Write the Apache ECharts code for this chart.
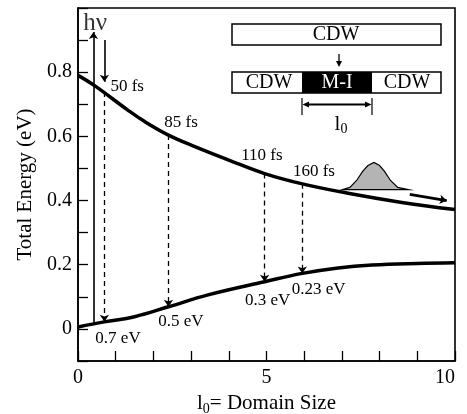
<!DOCTYPE html>
<html><head><meta charset="utf-8">
<script src="https://cdn.jsdelivr.net/npm/echarts@6/dist/echarts.min.js"></script>
<style>html,body{margin:0;padding:0;background:#fff}#c{width:467px;height:414px}</style>
</head><body><div id="c"></div>
<script>
// ---- data ----
const xUpper = [0, 0.44, 1.32, 1.77, 2.4, 3.1, 4.0, 4.95, 5.95, 7.2, 8.55, 10];
const energyUpper = [0.79, 0.758, 0.682, 0.646, 0.604, 0.568, 0.526, 0.484, 0.452, 0.422, 0.395, 0.372];
const xLower = [0, 0.7, 1.5, 2.4, 3.45, 4.95, 5.95, 6.9, 7.8, 9, 10];
const energyLower = [0.006, 0.022, 0.038, 0.069, 0.106, 0.147, 0.173, 0.19, 0.199, 0.204, 0.206];
const dropX = [0.7, 2.4, 4.95, 5.95];
const dropFrom = [0.738, 0.604, 0.484, 0.452];
const dropTo = [0.022, 0.069, 0.147, 0.173];
const timeLabels = ['50 fs', '85 fs', '110 fs', '160 fs'];
const gapLabels = ['0.7 eV', '0.5 eV', '0.3 eV', '0.23 eV'];
const bumpX = [7.02, 7.21, 7.39, 7.55, 7.69, 7.85, 8.0, 8.13, 8.29, 8.48, 8.77];
const bumpY = [0.434, 0.441, 0.4625, 0.491, 0.509, 0.519, 0.509, 0.491, 0.4625, 0.441, 0.434];
const xTickLabels = [0, 5, 10];
const yTickLabels = [0, 0.2, 0.4, 0.6, 0.8];

// ---- annotation anchors (layout) ----
const timeLabelPos = [[0.86, 0.756], [2.29, 0.644], [4.33, 0.54], [5.70, 0.49]];
const gapLabelPos = [[0.46, -0.031], [2.13, 0.022], [4.43, 0.0875], [5.67, 0.122]];

const FONT = "'Liberation Serif','Times New Roman',serif";
const chart = echarts.init(document.getElementById('c'));

const upper = xUpper.map((x, i) => [x, energyUpper[i]]);
const lower = xLower.map((x, i) => [x, energyLower[i]]);

const lineArrows = [];
dropX.forEach((x, i) => {
  lineArrows.push([{coord: [x, dropFrom[i]], lineStyle: {type: [5, 4], width: 1.3}}, {coord: [x, dropTo[i]]}]);
});
lineArrows.push([{coord: [0.41, 0.018], lineStyle: {type: 'solid', width: 1.6}}, {coord: [0.41, 0.925]}]);
lineArrows.push([{coord: [0.7, 0.9], lineStyle: {type: 'solid', width: 1.6}}, {coord: [0.7, 0.77]}]);
lineArrows.push([{coord: [8.8, 0.419], lineStyle: {type: 'solid', width: 2.8}, symbolSize: 11}, {coord: [9.78, 0.4]}]);

const textItems = [];
timeLabels.forEach((t, i) => textItems.push({value: timeLabelPos[i], name: t}));
gapLabels.forEach((t, i) => textItems.push({value: gapLabelPos[i], name: t}));

const option = {
  animation: false,
  grid: {left: 78, right: 12, top: 8, bottom: 53, show: true, borderColor: '#000', borderWidth: 1.6,
    outerBoundsMode: 'none', containLabel: false},
  xAxis: {
    type: 'value', min: 0, max: 10, interval: 1,
    axisLine: {show: true, onZero: false, lineStyle: {color: '#000', width: 1.6}},
    axisTick: {show: true, inside: true, length: 10, lineStyle: {color: '#000', width: 1.3}},
    splitLine: {show: false},
    axisLabel: {
      color: '#000', fontFamily: FONT, fontSize: 20, margin: 7, alignMaxLabel: 'right',
      formatter: v => xTickLabels.indexOf(Math.round(v)) >= 0 && Math.abs(v - Math.round(v)) < 1e-6 ? String(Math.round(v)) : ''
    },
    name: 'l{sub|0}= Domain Size', nameLocation: 'middle', nameGap: 27,
    nameTextStyle: {color: '#000', fontFamily: FONT, fontSize: 21,
      rich: {sub: {fontFamily: FONT, fontSize: 14, color: '#000', padding: [11, 0, 0, 0], verticalAlign: 'top'}}}
  },
  yAxis: {
    type: 'value', min: -0.1, max: 1.0, interval: 0.1,
    axisLine: {show: true, onZero: false, lineStyle: {color: '#000', width: 1.6}},
    axisTick: {show: true, inside: true, length: 10, lineStyle: {color: '#000', width: 1.3}},
    splitLine: {show: false},
    axisLabel: {
      color: '#000', fontFamily: FONT, fontSize: 20, margin: 6,
      formatter: v => {
        const hit = yTickLabels.find(t => Math.abs(t - v) < 1e-6);
        return hit === undefined ? '' : (hit === 0 ? '0' : hit.toFixed(1));
      }
    },
    name: 'Total Energy (eV)', nameLocation: 'middle', nameGap: 40,
    nameTextStyle: {color: '#000', fontFamily: FONT, fontSize: 21}
  },
  series: [
    {
      type: 'line', data: upper, smooth: 0.4, symbol: 'none', silent: true,
      lineStyle: {color: '#000', width: 3.5},
      markLine: {
        silent: true, symbol: ['none', 'arrow'], symbolSize: 7, label: {show: false},
        lineStyle: {color: '#000', width: 1.5, type: 'solid'}, emphasis: {disabled: true},
        data: lineArrows
      }
    },
    {
      type: 'line', data: lower, smooth: 0.4, symbol: 'none', silent: true,
      lineStyle: {color: '#000', width: 3.5}
    },
    {
      type: 'custom', silent: true, clip: false, data: [[bumpX[0], bumpY[0]]],
      renderItem: (params, api) => {
        const pts = bumpX.map((x, i) => api.coord([x, bumpY[i]]));
        return {type: 'polygon', shape: {points: pts, smooth: 0}, style: {fill: '#b4b4b4', stroke: '#000', lineWidth: 1.2}};
      }
    },
    {
      type: 'scatter', silent: true, symbolSize: 0, data: textItems,
      label: {show: true, position: 'right', distance: 0, formatter: p => p.name,
        color: '#000', opacity: 1, textBorderWidth: 0, fontFamily: FONT, fontSize: 17}
    },
    {
      type: 'scatter', silent: true, symbolSize: 0, data: [{value: [0.14, 0.953], name: 'hν'}],
      label: {show: true, position: 'right', distance: 0, formatter: p => p.name,
        color: '#000', textBorderWidth: 0, fontFamily: FONT, fontSize: 25}
    }
  ],
  graphic: [
    {type: 'rect', shape: {x: 232, y: 24, width: 209, height: 21}, style: {fill: '#fff', stroke: '#000', lineWidth: 1.5}},
    {type: 'text', x: 336, y: 35, style: {text: 'CDW', font: "20px 'Liberation Serif', serif", fill: '#000', textAlign: 'center', textVerticalAlign: 'middle'}},
    {type: 'line', shape: {x1: 339, y1: 54, x2: 339, y2: 62}, style: {stroke: '#000', lineWidth: 1.3}},
    {type: 'polygon', shape: {points: [[336, 61], [342, 61], [339, 67]]}, style: {fill: '#000'}},
    {type: 'rect', shape: {x: 232, y: 72, width: 209, height: 21}, style: {fill: '#fff', stroke: '#000', lineWidth: 1.5}},
    {type: 'rect', shape: {x: 302, y: 72, width: 70, height: 21}, style: {fill: '#000'}},
    {type: 'text', x: 269, y: 83, style: {text: 'CDW', font: "20px 'Liberation Serif', serif", fill: '#000', textAlign: 'center', textVerticalAlign: 'middle'}},
    {type: 'text', x: 337, y: 83, style: {text: 'M-I', font: "20px 'Liberation Serif', serif", fill: '#fff', textAlign: 'center', textVerticalAlign: 'middle'}},
    {type: 'text', x: 407, y: 83, style: {text: 'CDW', font: "20px 'Liberation Serif', serif", fill: '#000', textAlign: 'center', textVerticalAlign: 'middle'}},
    {type: 'line', shape: {x1: 302, y1: 98, x2: 302, y2: 115}, style: {stroke: '#000', lineWidth: 1.2}},
    {type: 'line', shape: {x1: 372, y1: 98, x2: 372, y2: 115}, style: {stroke: '#000', lineWidth: 1.2}},
    {type: 'line', shape: {x1: 306, y1: 104.5, x2: 368, y2: 104.5}, style: {stroke: '#000', lineWidth: 1.8}},
    {type: 'polygon', shape: {points: [[302.5, 104.5], [309, 101.5], [309, 107.5]]}, style: {fill: '#000'}},
    {type: 'polygon', shape: {points: [[371.5, 104.5], [365, 101.5], [365, 107.5]]}, style: {fill: '#000'}},
    {type: 'text', x: 341, y: 124, style: {text: 'l{s|0}', font: "21px 'Liberation Serif', serif", fill: '#000', textAlign: 'center', textVerticalAlign: 'middle',
      rich: {s: {fontSize: 14, fontFamily: 'Liberation Serif', fill: '#000', padding: [11, 0, 0, 0], verticalAlign: 'top'}}}}
  ]
};
chart.setOption(option);
</script>
</body></html>
